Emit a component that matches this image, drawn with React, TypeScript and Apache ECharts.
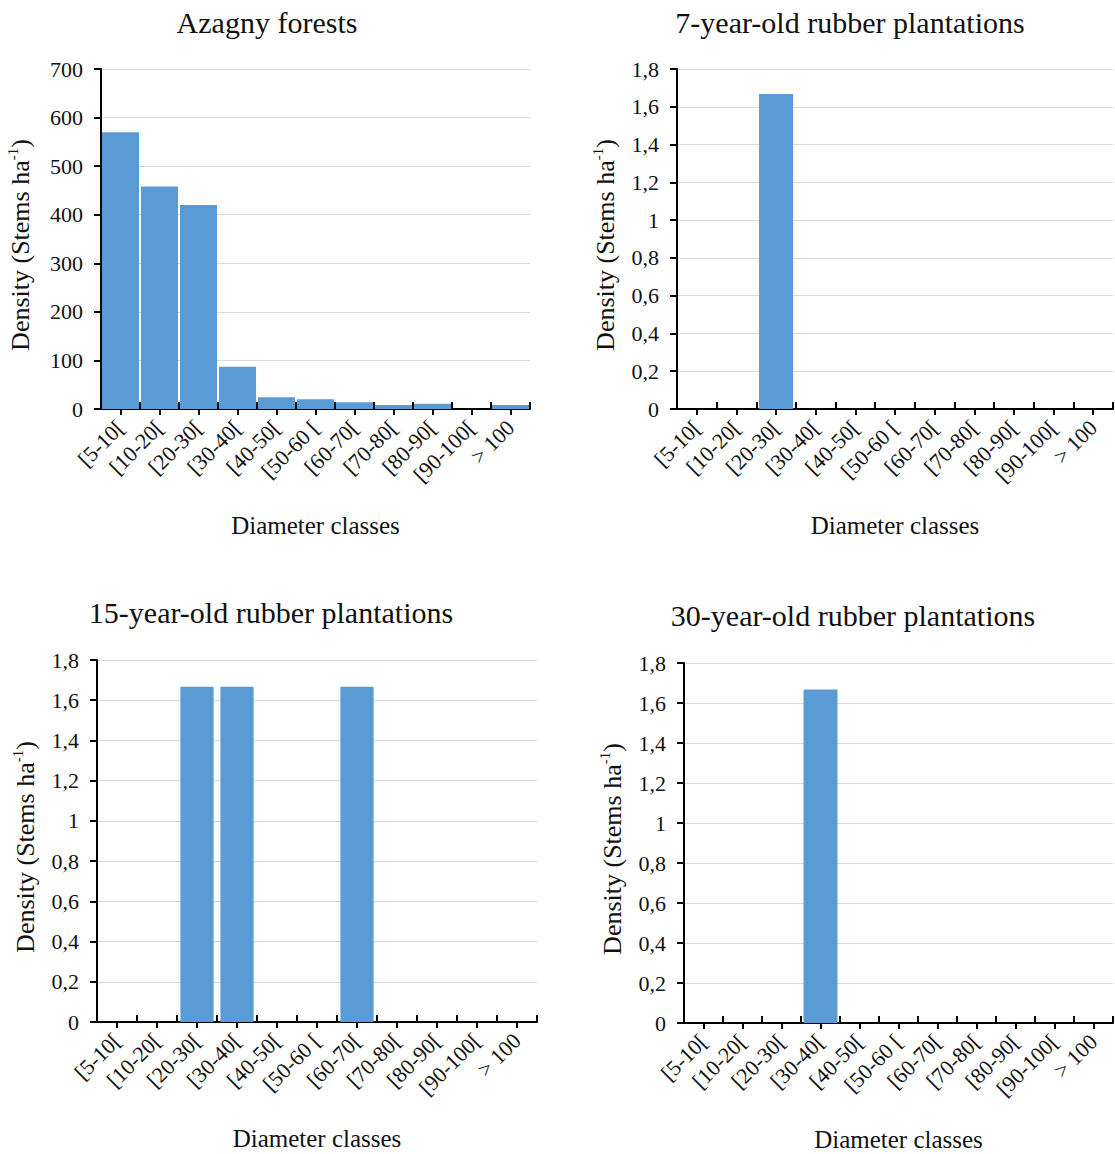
import React, { useEffect, useRef } from "react";
import * as echarts from "echarts";

const categories = ["[5-10[", "[10-20[", "[20-30[", "[30-40[", "[40-50[", "[50-60 [", "[60-70[", "[70-80[", "[80-90[", "[90-100[", "> 100"];
const azagnyValues = [570, 458, 420, 87, 24, 20, 14, 8, 11, 0, 8];
const rubber7Values = [0, 0, 1.667, 0, 0, 0, 0, 0, 0, 0, 0];
const rubber15Values = [0, 0, 1.667, 1.667, 0, 0, 1.667, 0, 0, 0, 0];
const rubber30Values = [0, 0, 0, 1.667, 0, 0, 0, 0, 0, 0, 0];
const panelTitles = ["Azagny forests", "7-year-old rubber plantations", "15-year-old rubber plantations", "30-year-old rubber plantations"];
const yMax = [700, 1.8, 1.8, 1.8];
const yInterval = [100, 0.2, 0.2, 0.2];
const xAxisName = "Diameter classes";

const FONT = "Liberation Serif";
const TEXT = "#111";
const BAR = "#5B9BD5";

const panels = [
  { values: azagnyValues, grid: { left: 101, top: 69, width: 429, height: 340 }, titleX: 267, titleY: 7, yGap: 66, gap: "5%" },
  { values: rubber7Values, grid: { left: 677, top: 69, width: 436, height: 340 }, titleX: 850, titleY: 7, yGap: 57, gap: "14%" },
  { values: rubber15Values, grid: { left: 97, top: 660, width: 440, height: 362 }, titleX: 271, titleY: 597, yGap: 57, gap: "17%" },
  { values: rubber30Values, grid: { left: 684, top: 663, width: 429, height: 360 }, titleX: 853, titleY: 600, yGap: 57, gap: "13%" },
];

function fmt(v: number) {
  const r = Math.round(v * 10) / 10;
  return String(r).replace(".", ",");
}

export default function App() {
  const ref = useRef<HTMLDivElement>(null);
  useEffect(() => {
    if (!ref.current) return;
    const chart = echarts.init(ref.current, undefined, { renderer: "svg" });
    const grids: any[] = [];
    const xAxes: any[] = [];
    const yAxes: any[] = [];
    const series: any[] = [];
    const titles: any[] = [];
    panels.forEach((p, i) => {
      grids.push({ ...p.grid, containLabel: false });
      titles.push({
        text: panelTitles[i],
        left: p.titleX,
        top: p.titleY,
        textAlign: "center",
        padding: 0,
        textStyle: { fontFamily: FONT, fontSize: 30, fontWeight: "normal", color: TEXT },
      });
      xAxes.push({
        type: "category",
        gridIndex: i,
        position: "bottom",
        data: categories,
        boundaryGap: true,
        axisLine: { show: true, lineStyle: { color: "#000", width: 2 } },
        axisTick: { show: true, alignWithLabel: true, inside: false, length: 6, interval: 0, lineStyle: { color: "#000", width: 2 } },
        axisLabel: { interval: 0, rotate: 45, fontFamily: FONT, fontSize: 22, color: TEXT, margin: 15 },
        splitLine: { show: false },
        name: xAxisName,
        nameLocation: "middle",
        nameGap: 104,
        nameTextStyle: { fontFamily: FONT, fontSize: 25, color: TEXT },
      });
      xAxes.push({
        type: "category",
        gridIndex: i,
        position: "bottom",
        data: categories,
        boundaryGap: true,
        axisLine: { show: false },
        axisTick: { show: true, alignWithLabel: false, inside: true, length: 7, interval: 0, lineStyle: { color: "#000", width: 2 } },
        axisLabel: { show: false },
        splitLine: { show: false },
      });
      yAxes.push({
        type: "value",
        gridIndex: i,
        min: 0,
        max: yMax[i],
        interval: yInterval[i],
        axisLine: { show: true, lineStyle: { color: "#000", width: 2 } },
        axisTick: { show: true, inside: false, length: 7, lineStyle: { color: "#000", width: 2 } },
        axisLabel: { fontFamily: FONT, fontSize: 22, color: TEXT, margin: 18, formatter: (v: number) => fmt(v) },
        splitLine: { show: true, lineStyle: { color: "#d9d9d9", width: 1 } },
        name: "{a|Density (Stems ha}{b|-1}{a|)}",
        nameLocation: "middle",
        nameGap: p.yGap,
        nameTextStyle: {
          padding: [0, 12, 0, 0],
          rich: {
            a: { fontFamily: FONT, fontSize: 26, color: TEXT, lineHeight: 30 },
            b: { fontFamily: FONT, fontSize: 15, color: TEXT, lineHeight: 15, verticalAlign: "top" },
          },
        },
      });
      series.push({
        type: "bar",
        xAxisIndex: i * 2,
        yAxisIndex: i,
        data: p.values,
        barCategoryGap: p.gap,
        itemStyle: { color: BAR },
        silent: true,
      });
    });
    chart.setOption({
      animation: false,
      backgroundColor: "#fff",
      title: titles,
      grid: grids,
      xAxis: xAxes,
      yAxis: yAxes,
      series,
    });
    return () => chart.dispose();
  }, []);
  return <div ref={ref} style={{ position: "absolute", left: 0, top: 0, width: 1115, height: 1154 }} />;
}
